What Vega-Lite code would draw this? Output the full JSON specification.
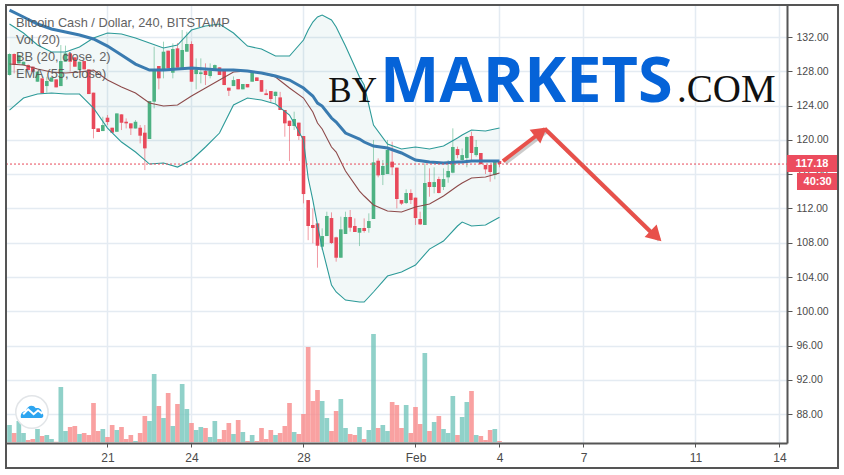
{
"$schema":"https://vega.github.io/schema/vega-lite/v6.json",
"width":781,"height":438,"autosize":{"type":"none"},"padding":{"left":6,"top":5,"right":57,"bottom":32},
"background":"white",
"config":{"view":{"stroke":null},"font":"Liberation Sans"},
"datasets":{
"candles":[
{"t":"2019-01-17T12:00Z","o":127.57,"h":130.1,"l":127.5,"c":130.02,"v":51,"d":"up"},
{"t":"2019-01-17T16:00Z","o":130.02,"h":130.1,"l":127.76,"c":128.73,"v":27,"d":"down"},
{"t":"2019-01-17T20:00Z","o":128.93,"h":129.9,"l":128.9,"c":129.9,"v":63,"d":"up"},
{"t":"2019-01-18T00:00Z","o":128.73,"h":129.12,"l":128.7,"c":129.12,"v":27,"d":"up"},
{"t":"2019-01-18T04:00Z","o":128.73,"h":128.8,"l":128.1,"c":128.15,"v":6,"d":"down"},
{"t":"2019-01-18T08:00Z","o":128.54,"h":128.6,"l":127.9,"c":127.96,"v":9,"d":"down"},
{"t":"2019-01-18T12:00Z","o":126.79,"h":127.96,"l":126.79,"c":127.96,"v":39,"d":"up"},
{"t":"2019-01-18T16:00Z","o":127.18,"h":127.2,"l":125.43,"c":125.43,"v":18,"d":"down"},
{"t":"2019-01-18T20:00Z","o":126.28,"h":127.37,"l":125.51,"c":126.87,"v":21,"d":"up"},
{"t":"2019-01-19T00:00Z","o":126.79,"h":127.29,"l":126.79,"c":127.29,"v":9,"d":"up"},
{"t":"2019-01-19T04:00Z","o":127.06,"h":127.06,"l":126.13,"c":126.13,"v":1,"d":"down"},
{"t":"2019-01-19T08:00Z","o":126.28,"h":131.07,"l":126.28,"c":129.2,"v":165,"d":"up"},
{"t":"2019-01-19T12:00Z","o":129.12,"h":131,"l":129.12,"c":130.1,"v":33,"d":"up"},
{"t":"2019-01-19T16:00Z","o":130.1,"h":130.1,"l":127.96,"c":129.12,"v":45,"d":"down"},
{"t":"2019-01-19T20:00Z","o":129.63,"h":129.63,"l":128.54,"c":128.54,"v":48,"d":"down"},
{"t":"2019-01-20T00:00Z","o":128.15,"h":129.12,"l":128.15,"c":129.12,"v":24,"d":"up"},
{"t":"2019-01-20T04:00Z","o":129.2,"h":129.2,"l":128.23,"c":128.23,"v":27,"d":"down"},
{"t":"2019-01-20T08:00Z","o":128.23,"h":128.23,"l":125.35,"c":125.35,"v":21,"d":"down"},
{"t":"2019-01-20T12:00Z","o":125.51,"h":125.51,"l":120.18,"c":121.27,"v":117,"d":"down"},
{"t":"2019-01-20T16:00Z","o":121.34,"h":121.34,"l":120.92,"c":120.92,"v":33,"d":"down"},
{"t":"2019-01-20T20:00Z","o":121.03,"h":122.7,"l":121.03,"c":121.73,"v":39,"d":"up"},
{"t":"2019-01-21T00:00Z","o":122.59,"h":122.9,"l":121.73,"c":122.08,"v":15,"d":"down"},
{"t":"2019-01-21T04:00Z","o":121.42,"h":121.42,"l":120.84,"c":120.84,"v":51,"d":"down"},
{"t":"2019-01-21T08:00Z","o":120.95,"h":123.09,"l":120.95,"c":123.09,"v":36,"d":"up"},
{"t":"2019-01-21T12:00Z","o":122.98,"h":122.98,"l":121.15,"c":122,"v":45,"d":"down"},
{"t":"2019-01-21T16:00Z","o":122.12,"h":122.51,"l":121.34,"c":121.93,"v":9,"d":"down"},
{"t":"2019-01-21T20:00Z","o":121.93,"h":121.93,"l":120.57,"c":121.34,"v":21,"d":"down"},
{"t":"2019-01-22T00:00Z","o":121.34,"h":122.32,"l":121.34,"c":122.12,"v":3,"d":"up"},
{"t":"2019-01-22T04:00Z","o":121.42,"h":121.73,"l":119.59,"c":120.49,"v":27,"d":"down"},
{"t":"2019-01-22T08:00Z","o":120.84,"h":121.73,"l":116.48,"c":119.01,"v":78,"d":"down"},
{"t":"2019-01-22T12:00Z","o":120.1,"h":124.53,"l":120.1,"c":124.53,"v":63,"d":"up"},
{"t":"2019-01-22T16:00Z","o":124.46,"h":130.87,"l":123.68,"c":128.23,"v":204,"d":"up"},
{"t":"2019-01-22T20:00Z","o":128.62,"h":128.62,"l":125.9,"c":127.18,"v":108,"d":"down"},
{"t":"2019-01-23T00:00Z","o":128.15,"h":131.46,"l":127.18,"c":130.29,"v":72,"d":"up"},
{"t":"2019-01-23T04:00Z","o":130.41,"h":130.41,"l":128.35,"c":128.35,"v":147,"d":"down"},
{"t":"2019-01-23T08:00Z","o":127.84,"h":131.26,"l":127.18,"c":130.6,"v":48,"d":"up"},
{"t":"2019-01-23T12:00Z","o":130.68,"h":131.3,"l":128.42,"c":128.42,"v":114,"d":"down"},
{"t":"2019-01-23T16:00Z","o":128.35,"h":132.82,"l":128.35,"c":130.49,"v":174,"d":"up"},
{"t":"2019-01-23T20:00Z","o":130.29,"h":132.62,"l":130.29,"c":131.19,"v":99,"d":"up"},
{"t":"2019-01-24T00:00Z","o":131.19,"h":131.5,"l":126.79,"c":126.79,"v":57,"d":"down"},
{"t":"2019-01-24T04:00Z","o":127.68,"h":129.51,"l":125.9,"c":128.23,"v":36,"d":"up"},
{"t":"2019-01-24T08:00Z","o":127.68,"h":129.51,"l":126.6,"c":127.88,"v":45,"d":"up"},
{"t":"2019-01-24T12:00Z","o":128.07,"h":128.93,"l":126.4,"c":127.57,"v":42,"d":"down"},
{"t":"2019-01-24T16:00Z","o":127.45,"h":128.93,"l":127.18,"c":128.07,"v":15,"d":"up"},
{"t":"2019-01-24T20:00Z","o":128.27,"h":128.8,"l":128.27,"c":128.73,"v":63,"d":"up"},
{"t":"2019-01-25T00:00Z","o":128.46,"h":128.46,"l":127.57,"c":127.57,"v":9,"d":"down"},
{"t":"2019-01-25T04:00Z","o":128.07,"h":128.07,"l":126.4,"c":126.4,"v":36,"d":"down"},
{"t":"2019-01-25T08:00Z","o":126.09,"h":126.09,"l":125.12,"c":125.74,"v":57,"d":"down"},
{"t":"2019-01-25T12:00Z","o":126.28,"h":127.4,"l":126.28,"c":126.98,"v":24,"d":"up"},
{"t":"2019-01-25T16:00Z","o":127.1,"h":127.1,"l":125.9,"c":125.9,"v":66,"d":"down"},
{"t":"2019-01-25T20:00Z","o":125.9,"h":126.52,"l":125.9,"c":126.52,"v":30,"d":"up"},
{"t":"2019-01-26T00:00Z","o":126.52,"h":126.52,"l":126.13,"c":126.13,"v":3,"d":"down"},
{"t":"2019-01-26T04:00Z","o":126.79,"h":127.96,"l":126.79,"c":127.96,"v":21,"d":"up"},
{"t":"2019-01-26T08:00Z","o":127.29,"h":127.29,"l":126.87,"c":126.87,"v":3,"d":"down"},
{"t":"2019-01-26T12:00Z","o":126.98,"h":126.98,"l":125.62,"c":125.62,"v":42,"d":"down"},
{"t":"2019-01-26T16:00Z","o":125.43,"h":125.9,"l":125.23,"c":125.23,"v":9,"d":"down"},
{"t":"2019-01-26T20:00Z","o":125.7,"h":125.7,"l":124.4,"c":124.77,"v":36,"d":"down"},
{"t":"2019-01-27T00:00Z","o":125.12,"h":125.62,"l":124.26,"c":125.62,"v":21,"d":"up"},
{"t":"2019-01-27T04:00Z","o":124.96,"h":125.6,"l":123.49,"c":123.49,"v":27,"d":"down"},
{"t":"2019-01-27T08:00Z","o":123.49,"h":123.49,"l":120.37,"c":121.93,"v":48,"d":"down"},
{"t":"2019-01-27T12:00Z","o":122.24,"h":122.24,"l":117.53,"c":121.62,"v":117,"d":"down"},
{"t":"2019-01-27T16:00Z","o":121.62,"h":123.29,"l":121.15,"c":122.44,"v":30,"d":"up"},
{"t":"2019-01-27T20:00Z","o":122.01,"h":122.01,"l":119.98,"c":120.45,"v":24,"d":"down"},
{"t":"2019-01-28T00:00Z","o":120.45,"h":120.45,"l":112.59,"c":113.68,"v":84,"d":"down"},
{"t":"2019-01-28T04:00Z","o":112.98,"h":112.98,"l":108.3,"c":109.95,"v":285,"d":"down"},
{"t":"2019-01-28T08:00Z","o":110.07,"h":112,"l":107.93,"c":109.72,"v":123,"d":"down"},
{"t":"2019-01-28T12:00Z","o":110.26,"h":110.26,"l":105.09,"c":107.65,"v":156,"d":"down"},
{"t":"2019-01-28T16:00Z","o":107.54,"h":109.68,"l":107.15,"c":108.78,"v":123,"d":"up"},
{"t":"2019-01-28T20:00Z","o":108.78,"h":111.62,"l":108.78,"c":111.12,"v":72,"d":"up"},
{"t":"2019-01-29T00:00Z","o":110.88,"h":111.54,"l":107.85,"c":107.97,"v":33,"d":"down"},
{"t":"2019-01-29T04:00Z","o":108.63,"h":108.7,"l":105.79,"c":106.25,"v":93,"d":"down"},
{"t":"2019-01-29T08:00Z","o":106.25,"h":111.04,"l":106.25,"c":109.56,"v":129,"d":"up"},
{"t":"2019-01-29T12:00Z","o":109.02,"h":111.62,"l":109.02,"c":111,"v":42,"d":"up"},
{"t":"2019-01-29T16:00Z","o":111,"h":111.82,"l":109.29,"c":109.75,"v":24,"d":"down"},
{"t":"2019-01-29T20:00Z","o":109.95,"h":110.84,"l":109.25,"c":109.25,"v":21,"d":"down"},
{"t":"2019-01-30T00:00Z","o":109.17,"h":109.72,"l":107.61,"c":109.72,"v":45,"d":"up"},
{"t":"2019-01-30T04:00Z","o":109.72,"h":110.84,"l":109.17,"c":109.37,"v":9,"d":"down"},
{"t":"2019-01-30T08:00Z","o":109.72,"h":111.43,"l":109.17,"c":110.53,"v":36,"d":"up"},
{"t":"2019-01-30T12:00Z","o":110.77,"h":119.99,"l":110.77,"c":117.38,"v":324,"d":"up"},
{"t":"2019-01-30T16:00Z","o":117.57,"h":117.85,"l":115.63,"c":115.86,"v":42,"d":"down"},
{"t":"2019-01-30T20:00Z","o":115.9,"h":117.65,"l":114.73,"c":116.95,"v":51,"d":"up"},
{"t":"2019-01-31T00:00Z","o":116.02,"h":119.99,"l":116.02,"c":118.82,"v":33,"d":"up"},
{"t":"2019-01-31T04:00Z","o":117.46,"h":119.79,"l":115.9,"c":116.8,"v":120,"d":"down"},
{"t":"2019-01-31T08:00Z","o":116.76,"h":116.76,"l":112.01,"c":113.1,"v":111,"d":"down"},
{"t":"2019-01-31T12:00Z","o":112.98,"h":112.98,"l":112.4,"c":112.56,"v":42,"d":"down"},
{"t":"2019-01-31T16:00Z","o":112.63,"h":114.23,"l":112.52,"c":113.8,"v":111,"d":"up"},
{"t":"2019-01-31T20:00Z","o":113.8,"h":114.23,"l":112.52,"c":112.98,"v":27,"d":"down"},
{"t":"2019-02-01T00:00Z","o":113.26,"h":113.26,"l":110.07,"c":110.88,"v":105,"d":"down"},
{"t":"2019-02-01T04:00Z","o":110.77,"h":111.62,"l":110.07,"c":110.14,"v":54,"d":"down"},
{"t":"2019-02-01T08:00Z","o":110.07,"h":117.26,"l":110.07,"c":114.97,"v":267,"d":"up"},
{"t":"2019-02-01T12:00Z","o":115.08,"h":116.68,"l":113.37,"c":114.5,"v":33,"d":"down"},
{"t":"2019-02-01T16:00Z","o":114.5,"h":116.8,"l":113.76,"c":115.08,"v":60,"d":"up"},
{"t":"2019-02-01T20:00Z","o":115.43,"h":115.71,"l":113.76,"c":113.8,"v":78,"d":"down"},
{"t":"2019-02-02T00:00Z","o":114.5,"h":116.68,"l":114.15,"c":115.43,"v":39,"d":"up"},
{"t":"2019-02-02T04:00Z","o":115.63,"h":117.65,"l":115,"c":116.37,"v":27,"d":"up"},
{"t":"2019-02-02T08:00Z","o":116.17,"h":121.35,"l":116.1,"c":119.17,"v":138,"d":"up"},
{"t":"2019-02-02T12:00Z","o":118.93,"h":119.21,"l":117.85,"c":118.23,"v":21,"d":"down"},
{"t":"2019-02-02T16:00Z","o":117.65,"h":119,"l":117.5,"c":118.23,"v":75,"d":"up"},
{"t":"2019-02-02T20:00Z","o":117.89,"h":120.4,"l":116.8,"c":120.34,"v":120,"d":"up"},
{"t":"2019-02-03T00:00Z","o":120.45,"h":120.96,"l":117.65,"c":118.47,"v":153,"d":"down"},
{"t":"2019-02-03T04:00Z","o":118.23,"h":119.99,"l":118.04,"c":119.17,"v":21,"d":"up"},
{"t":"2019-02-03T08:00Z","o":118.47,"h":118.47,"l":117.1,"c":117.18,"v":18,"d":"down"},
{"t":"2019-02-03T12:00Z","o":117.07,"h":117.07,"l":116.02,"c":116.56,"v":6,"d":"down"},
{"t":"2019-02-03T16:00Z","o":117.07,"h":117.07,"l":115.12,"c":116.25,"v":36,"d":"down"},
{"t":"2019-02-03T20:00Z","o":115.9,"h":117.53,"l":115.4,"c":117.53,"v":39,"d":"up"},
{"t":"2019-02-04T00:00Z","o":117.53,"h":117.53,"l":116.8,"c":117.18,"v":3,"d":"down"}
],
"bands":[
{"t":"2019-01-17T12:00Z","u":133.52,"b":128.85,"lo":123.48,"e":135.15},
{"t":"2019-01-18T00:00Z","u":132.47,"b":128.73,"lo":124.88,"e":134.34},
{"t":"2019-01-18T12:00Z","u":131.07,"b":128.27,"lo":125.35,"e":133.52},
{"t":"2019-01-19T00:00Z","u":130.25,"b":127.92,"lo":125.47,"e":132.94},
{"t":"2019-01-19T12:00Z","u":130.25,"b":127.8,"lo":125.35,"e":132.59},
{"t":"2019-01-20T00:00Z","u":130.84,"b":127.92,"lo":125.35,"e":132.24},
{"t":"2019-01-20T12:00Z","u":131.89,"b":128.15,"lo":123.72,"e":131.77},
{"t":"2019-01-21T00:00Z","u":132.47,"b":126.98,"lo":121.38,"e":130.95},
{"t":"2019-01-21T12:00Z","u":132.35,"b":126.17,"lo":119.75,"e":129.9},
{"t":"2019-01-22T00:00Z","u":131.89,"b":125.47,"lo":118.58,"e":128.85},
{"t":"2019-01-22T12:00Z","u":131.3,"b":124.3,"lo":117.18,"e":128.15},
{"t":"2019-01-23T00:00Z","u":130.72,"b":123.95,"lo":117.3,"e":128.15},
{"t":"2019-01-23T12:00Z","u":131.07,"b":124.07,"lo":116.83,"e":128.27},
{"t":"2019-01-24T00:00Z","u":132.82,"b":125.12,"lo":117.65,"e":128.39},
{"t":"2019-01-24T12:00Z","u":133.29,"b":126.05,"lo":119.17,"e":128.27},
{"t":"2019-01-25T00:00Z","u":133.52,"b":126.98,"lo":120.8,"e":128.15},
{"t":"2019-01-25T12:00Z","u":132.47,"b":127.92,"lo":124.07,"e":128.15},
{"t":"2019-01-26T00:00Z","u":130.95,"b":128.03,"lo":124.88,"e":128.03},
{"t":"2019-01-26T12:00Z","u":130.6,"b":127.8,"lo":124.65,"e":127.8},
{"t":"2019-01-27T00:00Z","u":129.79,"b":127.33,"lo":124.18,"e":127.45},
{"t":"2019-01-27T12:00Z","u":129.79,"b":126.05,"lo":122.9,"e":126.98},
{"t":"2019-01-28T00:00Z","u":131.65,"b":124.88,"lo":119.98,"e":126.05},
{"t":"2019-01-28T04:00Z","u":132.82,"b":124.07,"lo":115.55,"e":125.58},
{"t":"2019-01-28T08:00Z","u":133.75,"b":123.25,"lo":112.98,"e":125.12},
{"t":"2019-01-28T12:00Z","u":134.34,"b":121.97,"lo":110.06,"e":124.3},
{"t":"2019-01-28T16:00Z","u":134.57,"b":121.27,"lo":107.38,"e":123.95},
{"t":"2019-01-29T00:00Z","u":133.99,"b":119.17,"lo":103.06,"e":122.55},
{"t":"2019-01-29T04:00Z","u":133.17,"b":118.58,"lo":102.25,"e":122.08},
{"t":"2019-01-29T12:00Z","u":130.95,"b":116.37,"lo":101.31,"e":120.8},
{"t":"2019-01-30T00:00Z","u":127.33,"b":114.03,"lo":101.08,"e":120.1},
{"t":"2019-01-30T04:00Z","u":126.4,"b":113.45,"lo":101.08,"e":119.75},
{"t":"2019-01-30T12:00Z","u":121.73,"b":112.4,"lo":102.25,"e":119.28},
{"t":"2019-01-31T00:00Z","u":119.52,"b":111.7,"lo":104.11,"e":119.05},
{"t":"2019-01-31T12:00Z","u":118.93,"b":111.58,"lo":104.58,"e":118.47},
{"t":"2019-02-01T00:00Z","u":119.17,"b":112.16,"lo":105.4,"e":117.65},
{"t":"2019-02-01T12:00Z","u":118.93,"b":112.52,"lo":107.26,"e":117.42},
{"t":"2019-02-02T00:00Z","u":119.28,"b":113.45,"lo":108.2,"e":117.3},
{"t":"2019-02-02T12:00Z","u":120.22,"b":114.62,"lo":109.95,"e":117.42},
{"t":"2019-02-02T16:00Z","u":120.57,"b":114.97,"lo":110.41,"e":117.42},
{"t":"2019-02-03T00:00Z","u":121.15,"b":115.55,"lo":109.95,"e":117.53},
{"t":"2019-02-03T12:00Z","u":121.03,"b":115.67,"lo":110.06,"e":117.53},
{"t":"2019-02-04T00:00Z","u":121.38,"b":116.13,"lo":110.98,"e":117.53}
],
"arrows":[
{"t":"2019-02-04T03:00Z","p":117.53,"s":"a"},
{"t":"2019-02-05T15:00Z","p":121.27,"s":"a"},
{"t":"2019-02-05T15:00Z","p":121.27,"s":"b"},
{"t":"2019-02-09T15:00Z","p":108.55,"s":"b"}
],
"arrowShadow":[
{"t":"2019-02-04T05:00Z","p":117.3,"s":"a"},
{"t":"2019-02-05T17:00Z","p":121.04,"s":"a"},
{"t":"2019-02-05T17:00Z","p":121.04,"s":"b"},
{"t":"2019-02-09T17:00Z","p":108.32,"s":"b"}
],
"heads":[
{"t":"2019-02-05T11:30Z","p":120.92,"r":52},
{"t":"2019-02-09T14:10Z","p":108.78,"r":134}
],
"legendText":[
{"t":"2019-01-17T17:30Z","p":133.67,"x":"Bitcoin Cash / Dollar, 240, BITSTAMP"},
{"t":"2019-01-17T17:30Z","p":131.65,"x":"Vol (20)"},
{"t":"2019-01-17T17:30Z","p":129.67,"x":"BB (20, close, 2)"},
{"t":"2019-01-17T17:30Z","p":127.68,"x":"EMA (55, close)"}
]
},
"encoding":{"x":{"field":"t","type":"temporal","title":null,
"scale":{"type":"utc","domain":["2019-01-17T09:00Z","2019-02-14T06:26Z"],"nice":false,"padding":0},
"axis":{"values":["2019-01-21T00:00Z","2019-01-24T00:00Z","2019-01-28T00:00Z","2019-02-01T00:00Z","2019-02-04T00:00Z","2019-02-07T00:00Z","2019-02-11T00:00Z","2019-02-14T00:00Z"],
"labelExpr":"utcdate(datum.value)==1 ? 'Feb' : ''+utcdate(datum.value)","grid":true,"gridColor":"#e4ebf2","gridWidth":1.5,"domainColor":"#555","domainWidth":2,"tickColor":"#555","tickSize":4,"labelColor":"#4a4a4a","labelFontSize":12,"labelPadding":5,"labelFlush":false,"labelBound":false,"labelOverlap":false}}},
"layer":[
{"layer":[
{"data":{"name":"bands"},"mark":{"type":"area","color":"#2a8f8f","opacity":0.06},
 "encoding":{"y":{"field":"u","type":"quantitative","title":null,"scale":{"domain":[84.63,135.74],"nice":false,"zero":false},
 "axis":{"orient":"right","values":[88,92,96,100,104,108,112,116,120,124,128,132],"tickCount":24,"format":".2f","grid":true,"gridColor":"#e4ebf2","gridWidth":1.5,"domainColor":"#555","domainWidth":2,"tickColor":"#555","tickSize":5,"labelColor":"#4a4a4a","labelFontSize":10.5,"labelPadding":4,"labelOverlap":false,"labelBound":false,"labelFlush":false}},
 "y2":{"field":"lo"}}},
{"data":{"name":"candles"},"mark":{"type":"rule","strokeWidth":1,"opacity":0.55},
 "encoding":{"y":{"field":"h","type":"quantitative"},"y2":{"field":"l"},
 "color":{"field":"d","type":"nominal","legend":null,"scale":{"domain":["up","down"],"range":["#4eb283","#e8495a"]}}}},
{"data":{"name":"candles"},"mark":{"type":"bar","size":3.6},
 "encoding":{"y":{"field":"o","type":"quantitative","stack":null},"y2":{"field":"c"},
 "color":{"field":"d","type":"nominal","legend":null,"scale":{"domain":["up","down"],"range":["#4eb283","#e8495a"]}}}},
{"data":{"name":"bands"},"mark":{"type":"line","color":"#2c9a98","strokeWidth":1.1},
 "encoding":{"y":{"field":"u","type":"quantitative"}}},
{"data":{"name":"bands"},"mark":{"type":"line","color":"#2c9a98","strokeWidth":1.1},
 "encoding":{"y":{"field":"lo","type":"quantitative"}}},
{"data":{"name":"bands"},"mark":{"type":"line","color":"#8d4a4a","strokeWidth":1.1},
 "encoding":{"y":{"field":"b","type":"quantitative"}}},
{"data":{"name":"bands"},"mark":{"type":"line","color":"#3a7bb0","strokeWidth":3},
 "encoding":{"y":{"field":"e","type":"quantitative"}}},
{"data":{"values":[{"t":"2019-01-17T09:00Z","t2":"2019-02-14T06:26Z","p":117.18}]},"mark":{"type":"rule","color":"#e8495a","strokeDash":[2,2],"strokeWidth":1},
 "encoding":{"x2":{"field":"t2"},"y":{"field":"p","type":"quantitative"}}},
{"data":{"name":"legendText"},"mark":{"type":"text","align":"left","baseline":"middle","fontSize":12.8,"color":"#555","opacity":0.92},
 "encoding":{"y":{"field":"p","type":"quantitative"},"text":{"field":"x"}}},
{"data":{"values":[{"t":"2019-01-30T15:00Z","p":124.42,"x":"BY"}]},"mark":{"type":"text","align":"right","baseline":"alphabetic","font":"Liberation Serif","fontSize":35,"color":"#111"},
 "encoding":{"y":{"field":"p","type":"quantitative"},"text":{"field":"x"}}},
{"data":{"values":[{"t":"2019-01-30T17:30Z","p":124.42,"x":"MARKETS"}]},"mark":{"type":"text","align":"left","baseline":"alphabetic","font":"Open Sans","fontWeight":"bold","fontSize":63,"color":"#0563d8"},
 "encoding":{"y":{"field":"p","type":"quantitative"},"text":{"field":"x"}}},
{"data":{"values":[{"t":"2019-02-10T08:10Z","p":124.42,"x":".COM"}]},"mark":{"type":"text","align":"left","baseline":"alphabetic","font":"Liberation Serif","fontSize":39,"color":"#111"},
 "encoding":{"y":{"field":"p","type":"quantitative"},"text":{"field":"x"}}},
{"data":{"name":"arrowShadow"},"mark":{"type":"line","color":"#555","opacity":0.3,"strokeWidth":4},
 "encoding":{"y":{"field":"p","type":"quantitative"},"detail":{"field":"s"}}},
{"data":{"name":"arrows"},"mark":{"type":"line","color":"#e8504a","strokeWidth":4},
 "encoding":{"y":{"field":"p","type":"quantitative"},"detail":{"field":"s"}}},
{"data":{"name":"heads"},"mark":{"type":"point","shape":"triangle-up","filled":true,"color":"#e8504a","opacity":1,"size":300},
 "encoding":{"y":{"field":"p","type":"quantitative"},"angle":{"field":"r","type":"quantitative","scale":null}}},
{"data":{"values":[{"t":"2019-02-14T06:26Z","t2":"2019-02-16T02:10Z","p":118.23,"p2":116.25},{"t":"2019-02-14T15:00Z","t2":"2019-02-16T02:10Z","p":116.13,"p2":114.15}]},"mark":{"type":"rect","color":"#ec4c5e"},
 "encoding":{"x2":{"field":"t2"},"y":{"field":"p","type":"quantitative"},"y2":{"field":"p2"}}},
{"data":{"values":[{"t":"2019-02-15T03:50Z","p":117.24,"x":"117.18"},{"t":"2019-02-15T08:40Z","p":115.14,"x":"40:30"}]},"mark":{"type":"text","align":"center","baseline":"middle","fontSize":11,"fontWeight":"bold","color":"white"},
 "encoding":{"y":{"field":"p","type":"quantitative"},"text":{"field":"x"}}},
{"data":{"values":[{"t":"2019-01-17T09:00Z","t2":"2019-02-16T02:10Z","p":135.74,"p2":81.71}]},"mark":{"type":"rect","fill":null,"stroke":"#555","strokeWidth":2},
 "encoding":{"x2":{"field":"t2"},"y":{"field":"p","type":"quantitative"},"y2":{"field":"p2"}}}
]},
{"data":{"name":"candles"},"mark":{"type":"bar","size":4.67,"opacity":0.8},
 "encoding":{"y":{"field":"v","type":"quantitative","axis":null,"stack":null,"scale":{"domain":[-3,1311],"nice":false,"zero":false}},
 "color":{"field":"d","type":"nominal","legend":null,"scale":{"domain":["up","down"],"range":["#74c6bc","#f78a8a"]}}}},
{"layer":[
{"data":{"values":[{"t":"2019-01-18T07:15Z","p":88.24}]},"mark":{"type":"point","shape":"circle","filled":true,"fill":"white","stroke":"#e2e5e8","strokeWidth":1.5,"opacity":1,"size":1050},
 "encoding":{"y":{"field":"p","type":"quantitative","axis":null,"scale":{"domain":[84.63,135.74],"nice":false,"zero":false}}}},
{"data":{"values":[{"t":"2019-01-18T07:15Z","p":88.24}]},"mark":{"type":"point","shape":"M-1,0.55 C-1.1,0.1 -0.8,-0.1 -0.55,-0.1 C-0.45,-0.6 0.1,-0.75 0.35,-0.35 C0.7,-0.45 0.95,-0.15 0.85,0.05 C1.1,0.15 1.1,0.55 0.85,0.55 Z","filled":true,"color":"#2da5f0","opacity":1,"size":484},
 "encoding":{"y":{"field":"p","type":"quantitative","axis":null}}},
{"data":{"values":[{"t":"2019-01-18T07:15Z","p":88.24}]},"mark":{"type":"point","shape":"M-0.8,0.2 L-0.35,-0.25 L0.15,0.2 L0.55,-0.15 L0.95,0.15","filled":false,"stroke":"white","fill":"transparent","strokeWidth":2,"opacity":1,"size":484},
 "encoding":{"y":{"field":"p","type":"quantitative","axis":null}}}
]}
],
"resolve":{"scale":{"y":"independent","color":"independent"}}
}
